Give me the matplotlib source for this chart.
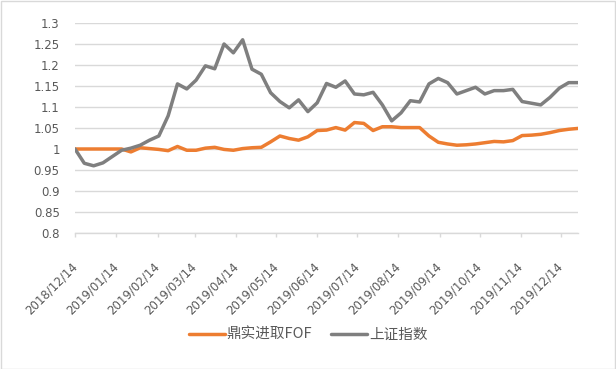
import matplotlib
matplotlib.use("Agg")
import matplotlib.pyplot as plt
import matplotlib.dates as mdates
from matplotlib.patches import Rectangle
from matplotlib.ticker import MultipleLocator, FuncFormatter
import pandas as pd

# ---- data ----
start_date = "2018-12-14"
end_date = "2019-12-27"
dates = pd.date_range(start_date, end_date, freq="7D")

series_names = ["鼎实进取FOF", "上证指数"]

fof_values = [
    1.000, 1.000, 1.000, 1.000, 1.000, 1.000, 0.993, 1.003, 1.001, 0.999,
    0.996, 1.006, 0.997, 0.997, 1.002, 1.004, 0.999, 0.997, 1.001, 1.003,
    1.004, 1.017, 1.031, 1.025, 1.021, 1.029, 1.044, 1.045, 1.051, 1.045,
    1.063, 1.061, 1.044, 1.053, 1.053, 1.051, 1.051, 1.051, 1.031, 1.016,
    1.012, 1.009, 1.010, 1.012, 1.015, 1.018, 1.017, 1.020, 1.032, 1.033,
    1.035, 1.039, 1.044, 1.047, 1.049,
]

index_values = [
    1.000, 0.966, 0.960, 0.967, 0.982, 0.997, 1.002, 1.009, 1.021, 1.031,
    1.079, 1.155, 1.143, 1.164, 1.198, 1.191, 1.250, 1.229, 1.260, 1.190,
    1.178, 1.134, 1.113, 1.098, 1.117, 1.089, 1.110, 1.156, 1.147, 1.162,
    1.131, 1.129, 1.135, 1.105, 1.067, 1.086, 1.115, 1.112, 1.155, 1.168,
    1.158, 1.131, 1.139, 1.147, 1.131, 1.139, 1.139, 1.142, 1.113, 1.109,
    1.105, 1.123, 1.145, 1.158, 1.158,
]

tick_dates = [pd.Timestamp("2018-12-14") + pd.DateOffset(months=m) for m in range(13)]

y_min, y_max, y_step = 0.8, 1.3, 0.05

# ---- style ----
orange = "#ED7D31"
gray = "#7F7F7F"
text_color = "#595959"
grid_color = "#D9D9D9"

fig = plt.figure(figsize=(6.16, 3.69), dpi=100)
ax = fig.add_axes([75 / 616, 1 - 233 / 369, (578 - 75) / 616, (233 - 23) / 369])

ax.plot(dates, fof_values, color=orange, lw=2.5, label=series_names[0],
        solid_joinstyle="round", solid_capstyle="round", zorder=3)
ax.plot(dates, index_values, color=gray, lw=2.5, label=series_names[1],
        solid_joinstyle="round", solid_capstyle="round", zorder=4)

ax.set_xlim(dates[0], dates[-1])
ax.set_ylim(y_min, y_max)
ax.yaxis.set_major_locator(MultipleLocator(y_step))
ax.yaxis.set_major_formatter(FuncFormatter(lambda v, p: f"{round(v, 2):g}"))
ax.grid(axis="y", color=grid_color, lw=1)
ax.set_axisbelow(True)

ax.set_xticks(tick_dates)
ax.xaxis.set_major_formatter(mdates.DateFormatter("%Y/%m/%d"))

for s in ["top", "right", "left"]:
    ax.spines[s].set_visible(False)
ax.spines["bottom"].set_color(grid_color)
ax.spines["bottom"].set_linewidth(1)

ax.tick_params(axis="y", length=0, pad=11, labelsize=8.5, labelcolor=text_color)
ax.tick_params(axis="x", length=3, width=1, color=grid_color, direction="out",
               pad=20, labelsize=8.5, labelcolor=text_color)
for lab in ax.get_xticklabels():
    lab.set_rotation(45)
    lab.set_ha("right")
    lab.set_va("center")
    lab.set_rotation_mode("anchor")

leg = fig.legend(loc="center", bbox_to_anchor=(0.5, 1 - 335 / 369), ncol=2,
                 frameon=False, handlelength=2.5, handletextpad=0.1,
                 columnspacing=1.3,
                 prop={"family": ["Noto Sans CJK SC", "DejaVu Sans"], "size": 10.5})
for t in leg.get_texts():
    t.set_color(text_color)

fig.patches.append(Rectangle((0.5 / 616, 0.5 / 369), 1 - 1.5 / 616, 1 - 1.5 / 369,
                             transform=fig.transFigure, fill=False,
                             edgecolor=grid_color, lw=1))

fig.savefig("out.png", dpi=100)
